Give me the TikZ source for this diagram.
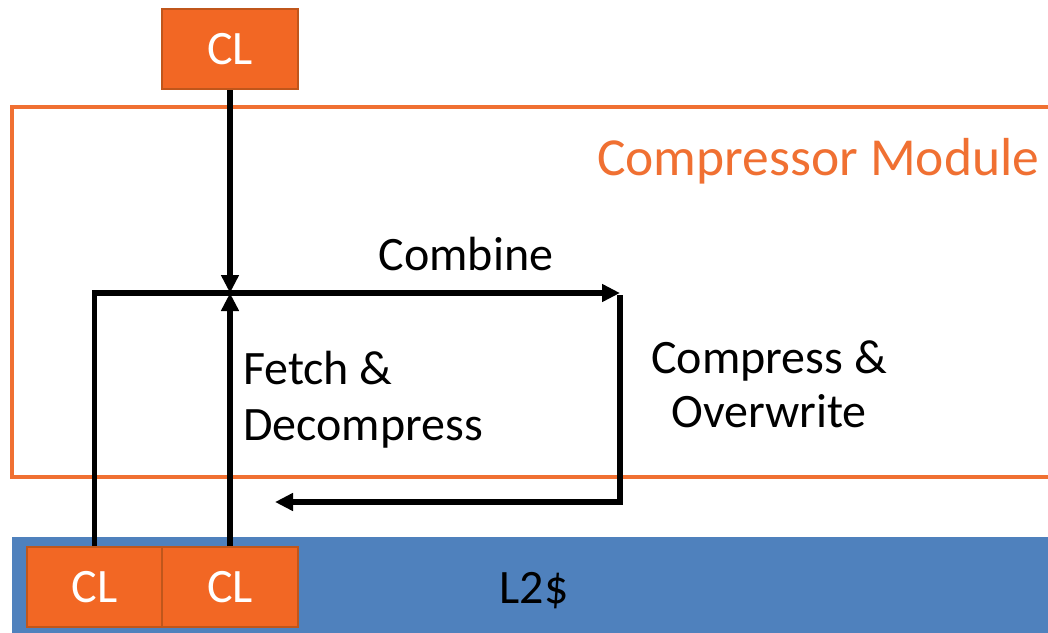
\documentclass[tikz,border=0pt]{standalone}
\usepackage{fontspec}
\setmainfont{Carlito}
\usetikzlibrary{arrows.meta}
\definecolor{clfill}{HTML}{F26724}
\definecolor{cledge}{HTML}{C0561B}
\definecolor{modorange}{HTML}{F07032}
\definecolor{l2blue}{HTML}{4F81BD}
\tikzset{
  clbox/.style={draw=cledge, line width=2pt, fill=clfill, text=white,
    minimum width=136pt, minimum height=80pt, inner sep=0pt,
    font=\fontsize{48}{56}\selectfont},
  flow/.style={line width=5.5pt, draw=black},
  tip/.style={-{Triangle[length=18pt,width=17pt]}},
  lbl/.style={inner sep=0pt, font=\fontsize{48}{56}\selectfont, text=black}
}
\begin{document}
\begin{tikzpicture}[x=1pt, y=-1pt]
  \useasboundingbox (0,0) rectangle (1048,632);
  \fill[white] (0,0) rectangle (1048,632);

  % compressor module frame
  \draw[modorange, line width=3.5pt] (1060,107) -- (12,107) -- (12,477) -- (1060,477);
  \node[lbl, text=modorange, anchor=base west, font=\fontsize{53.5}{60}\selectfont]
    (modname) at (597,175) {Compressor Module};

  % L2 cache strip
  \fill[l2blue] (12,537) rectangle (1060,640);
  \node[lbl, anchor=base] (l2) at (534,603) {L2\$};

  % cache lines
  \node[clbox] (cltop) at (230,49) {CL};
  \node[clbox, minimum width=135pt] (clA) at (94.5,587) {CL};
  \node[clbox] (clB) at (230,587) {CL};

  % junction points of the flow
  \coordinate (join) at (230,293);
  \coordinate (corner) at (620,293);
  \coordinate (back) at (275,502);

  % flows
  \draw[flow, tip] (cltop.south) -- (join);
  \draw[flow, tip] (clB.north) -- (join);
  \draw[flow, tip, line join=miter] (clA.north) |- (corner);
  \draw[flow, tip, line join=miter] ([yshift=-2pt]corner) |- (back);

  % labels
  \node[lbl, anchor=base] (comb) at (466,270) {Combine};
  \node[lbl, anchor=base west, align=left] (fetch) at (243,440) {Fetch \&\\Decompress};
  \node[lbl, anchor=base, align=center] (comp) at (769,427) {Compress \&\\[-2pt]Overwrite};
\end{tikzpicture}
\end{document}
